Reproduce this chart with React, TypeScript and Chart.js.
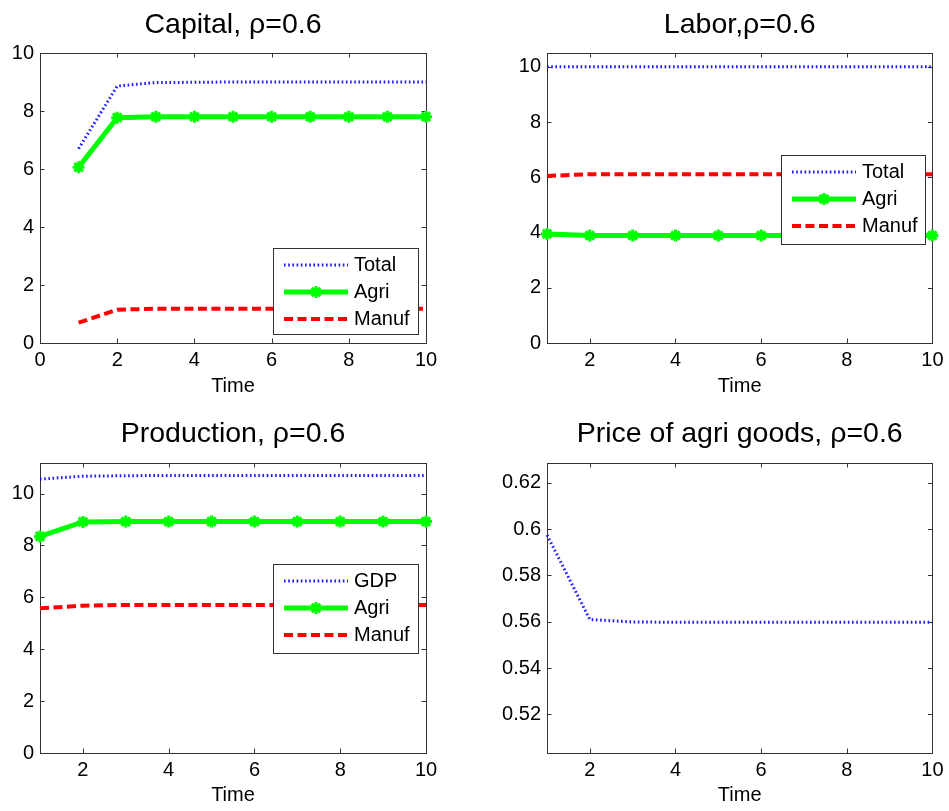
import React, { useEffect, useRef } from "react";
import { Chart, registerables } from "chart.js";

Chart.register(...registerables);

// ---------------- data ----------------
const time = [1, 2, 3, 4, 5, 6, 7, 8, 9, 10];

const capitalTotal = [6.7, 8.86, 8.98, 8.99, 9.0, 9.0, 9.0, 9.0, 9.0, 9.0];
const capitalAgri = [6.06, 7.77, 7.8, 7.8, 7.8, 7.8, 7.8, 7.8, 7.8, 7.8];
const capitalManuf = [0.7, 1.15, 1.18, 1.18, 1.18, 1.18, 1.18, 1.18, 1.18, 1.18];

const laborTotal = [10, 10, 10, 10, 10, 10, 10, 10, 10, 10];
const laborAgri = [3.95, 3.89, 3.89, 3.89, 3.89, 3.89, 3.89, 3.89, 3.89, 3.89];
const laborManuf = [6.05, 6.11, 6.11, 6.11, 6.11, 6.11, 6.11, 6.11, 6.11, 6.11];

const prodGDP = [10.56, 10.67, 10.69, 10.7, 10.7, 10.7, 10.7, 10.7, 10.7, 10.7];
const prodAgri = [8.35, 8.91, 8.92, 8.92, 8.92, 8.92, 8.92, 8.92, 8.92, 8.92];
const prodManuf = [5.58, 5.68, 5.71, 5.71, 5.71, 5.71, 5.71, 5.71, 5.71, 5.71];

const priceAgri = [0.5975, 0.561, 0.5599, 0.5598, 0.5598, 0.5598, 0.5598, 0.5598, 0.5598, 0.5598];

const xTicksCapital = [0, 2, 4, 6, 8, 10];
const xTicksOther = [2, 4, 6, 8, 10];
const yTicksLevels = [0, 2, 4, 6, 8, 10];
const yTicksPrice = [0.52, 0.54, 0.56, 0.58, 0.6, 0.62];

const labelsLevels = ["Total", "Agri", "Manuf"];
const labelsProd = ["GDP", "Agri", "Manuf"];

// ---------------- styles ----------------
const FONT = "'Liberation Sans', Arial, Helvetica, sans-serif";
const AXIS_COLOR = "#333333";
const TITLE_SIZE = 28.5;

const styleTotal = {
  borderColor: "#1a1aff",
  borderWidth: 3,
  borderDash: [1.6, 2.6],
  pointRadius: 0,
};
const styleAgri = {
  borderColor: "#00ff00",
  borderWidth: 5,
  pointStyle: "star",
  pointRadius: 6,
  pointBorderWidth: 3,
  pointBorderColor: "#00ff00",
  pointBackgroundColor: "#00ff00",
};
const styleManuf = {
  borderColor: "#ff0000",
  borderWidth: 4,
  borderDash: [9, 4.5],
  pointRadius: 0,
};

type Legend = { left: number; top: number; width: number; height: number };
type Panel = {
  title: string;
  canvas: { left: number; top: number; width: number; height: number };
  area: { left: number; right: number; top: number; bottom: number };
  titlePad: { top: number; bottom: number };
  xTitlePad: number;
  xMin: number;
  xMax: number;
  xTicks: number[];
  yMin: number;
  yMax: number;
  yTicks: number[];
  series: { label: string; values: number[]; style: any }[];
  legend?: Legend;
};

const panels: Panel[] = [
  {
    title: "Capital, ρ=0.6",
    canvas: { left: 0, top: 0, width: 475, height: 400 },
    area: { left: 40, right: 426, top: 53, bottom: 343 },
    titlePad: { top: 8.4, bottom: 10.4 },
    xTitlePad: 1.5,
    xMin: 0,
    xMax: 10,
    xTicks: xTicksCapital,
    yMin: 0,
    yMax: 10,
    yTicks: yTicksLevels,
    series: [
      { label: labelsLevels[0], values: capitalTotal, style: styleTotal },
      { label: labelsLevels[1], values: capitalAgri, style: styleAgri },
      { label: labelsLevels[2], values: capitalManuf, style: styleManuf },
    ],
    legend: { left: 273, top: 248, width: 145, height: 86 },
  },
  {
    title: "Labor,ρ=0.6",
    canvas: { left: 475, top: 0, width: 474, height: 400 },
    area: { left: 72, right: 459, top: 53, bottom: 343 },
    titlePad: { top: 8.4, bottom: 10.4 },
    xTitlePad: 1.5,
    xMin: 1,
    xMax: 10,
    xTicks: xTicksOther,
    yMin: 0,
    yMax: 10.5,
    yTicks: yTicksLevels,
    series: [
      { label: labelsLevels[0], values: laborTotal, style: styleTotal },
      { label: labelsLevels[1], values: laborAgri, style: styleAgri },
      { label: labelsLevels[2], values: laborManuf, style: styleManuf },
    ],
    legend: { left: 306, top: 155, width: 144, height: 89 },
  },
  {
    title: "Production, ρ=0.6",
    canvas: { left: 0, top: 405, width: 475, height: 406 },
    area: { left: 40, right: 426, top: 58, bottom: 348 },
    titlePad: { top: 12.4, bottom: 11.4 },
    xTitlePad: 3.3,
    xMin: 1,
    xMax: 10,
    xTicks: xTicksOther,
    yMin: 0,
    yMax: 11.18,
    yTicks: yTicksLevels,
    series: [
      { label: labelsProd[0], values: prodGDP, style: styleTotal },
      { label: labelsProd[1], values: prodAgri, style: styleAgri },
      { label: labelsProd[2], values: prodManuf, style: styleManuf },
    ],
    legend: { left: 273, top: 159, width: 145, height: 89 },
  },
  {
    title: "Price of agri goods, ρ=0.6",
    canvas: { left: 475, top: 405, width: 474, height: 406 },
    area: { left: 72, right: 459, top: 58, bottom: 348 },
    titlePad: { top: 12.4, bottom: 11.4 },
    xTitlePad: 3.3,
    xMin: 1,
    xMax: 10,
    xTicks: xTicksOther,
    yMin: 0.5033,
    yMax: 0.6286,
    yTicks: yTicksPrice,
    series: [{ label: "Price", values: priceAgri, style: styleTotal }],
  },
];

// ---------------- plugins ----------------
const TICK_LEN = 4.5;

const boxPlugin = {
  id: "matlabBox",
  beforeDatasetsDraw(chart: any) {
    const { ctx, chartArea } = chart;
    const { left, right, top, bottom } = chartArea;
    ctx.save();
    ctx.strokeStyle = AXIS_COLOR;
    ctx.lineWidth = 1;
    ctx.beginPath();
    const xs = chart.scales.x;
    xs.ticks.forEach((t: any) => {
      const px = Math.round(xs.getPixelForValue(t.value)) + 0.5;
      ctx.moveTo(px, bottom);
      ctx.lineTo(px, bottom - TICK_LEN);
      ctx.moveTo(px, top);
      ctx.lineTo(px, top + TICK_LEN);
    });
    const ys = chart.scales.y;
    ys.ticks.forEach((t: any) => {
      const py = Math.round(ys.getPixelForValue(t.value)) + 0.5;
      ctx.moveTo(left, py);
      ctx.lineTo(left + TICK_LEN, py);
      ctx.moveTo(right, py);
      ctx.lineTo(right - TICK_LEN, py);
    });
    ctx.stroke();
    ctx.strokeRect(
      Math.round(left) + 0.5,
      Math.round(top) + 0.5,
      Math.round(right) - Math.round(left),
      Math.round(bottom) - Math.round(top)
    );
    ctx.restore();
  },
};

function drawStar(ctx: CanvasRenderingContext2D, x: number, y: number, r: number) {
  ctx.beginPath();
  ctx.moveTo(x - r, y);
  ctx.lineTo(x + r, y);
  ctx.moveTo(x, y - r);
  ctx.lineTo(x, y + r);
  const d = r * Math.SQRT1_2;
  ctx.moveTo(x - d, y - d);
  ctx.lineTo(x + d, y + d);
  ctx.moveTo(x - d, y + d);
  ctx.lineTo(x + d, y - d);
  ctx.stroke();
}

const legendPlugin = {
  id: "boxLegend",
  afterDatasetsDraw(chart: any, _args: any, opts: any) {
    if (!opts || !opts.display) return;
    const ctx: CanvasRenderingContext2D = chart.ctx;
    const left = opts.left;
    const top = opts.top;
    const width = opts.width;
    const height = opts.height;
    ctx.save();
    ctx.fillStyle = "#ffffff";
    ctx.fillRect(left, top, width, height);
    ctx.strokeStyle = AXIS_COLOR;
    ctx.lineWidth = 1;
    ctx.strokeRect(Math.round(left) + 0.5, Math.round(top) + 0.5, width, height);
    chart.data.datasets.forEach((ds: any, i: number) => {
      const y = top + 17 + i * 27;
      ctx.save();
      ctx.strokeStyle = ds.borderColor;
      ctx.lineWidth = ds.borderWidth;
      ctx.setLineDash(ds.borderDash || []);
      ctx.beginPath();
      ctx.moveTo(left + 11, y);
      ctx.lineTo(left + 75, y);
      ctx.stroke();
      ctx.setLineDash([]);
      if (ds.pointRadius > 0) {
        ctx.strokeStyle = ds.pointBorderColor;
        ctx.lineWidth = ds.pointBorderWidth;
        drawStar(ctx, left + 43, y, ds.pointRadius);
      }
      ctx.restore();
      ctx.fillStyle = "#000000";
      ctx.font = `20px ${FONT}`;
      ctx.textBaseline = "middle";
      ctx.textAlign = "left";
      ctx.fillText(ds.label, left + 81, y);
    });
    ctx.restore();
  },
};

function fmtTick(v: number) {
  return String(parseFloat(Number(v).toFixed(4)));
}

// ---------------- components ----------------
function PanelChart({ p }: { p: Panel }) {
  const ref = useRef<HTMLCanvasElement | null>(null);

  useEffect(() => {
    if (!ref.current) return;
    const datasets = p.series.map((s) => ({
      label: s.label,
      data: time.map((t, i) => ({ x: t, y: s.values[i] })),
      fill: false,
      tension: 0,
      clip: false as any,
      ...s.style,
    }));
    const chart = new Chart(ref.current, {
      type: "line",
      data: { datasets },
      plugins: [boxPlugin, legendPlugin],
      options: {
        responsive: false,
        animation: false,
        events: [],
        layout: {
          padding: { left: 0, right: p.canvas.width - p.area.right, top: 0, bottom: 0 },
        },
        plugins: {
          legend: { display: false },
          tooltip: { enabled: false },
          title: {
            display: true,
            text: p.title,
            fullSize: false,
            color: "#000000",
            font: { family: FONT, size: TITLE_SIZE, weight: "normal" as any },
            padding: { top: p.titlePad.top, bottom: p.titlePad.bottom },
          },
          boxLegend: p.legend
            ? { display: true, ...p.legend }
            : { display: false },
        } as any,
        scales: {
          x: {
            type: "linear",
            min: p.xMin,
            max: p.xMax,
            grid: { display: false, drawTicks: false },
            border: { display: false },
            afterBuildTicks: (s: any) => {
              s.ticks = p.xTicks.map((v) => ({ value: v }));
            },
            afterFit: (s: any) => {
              s.height = p.canvas.height - p.area.bottom;
            },
            ticks: {
              autoSkip: false,
              maxRotation: 0,
              padding: 5.5,
              color: "#000000",
              font: { family: FONT, size: 20 },
              callback: (v: any) => fmtTick(v),
            },
            title: {
              display: true,
              text: "Time",
              color: "#000000",
              font: { family: FONT, size: 20 },
              padding: { top: 0, bottom: p.xTitlePad },
            },
          },
          y: {
            type: "linear",
            min: p.yMin,
            max: p.yMax,
            grid: { display: false, drawTicks: false },
            border: { display: false },
            afterBuildTicks: (s: any) => {
              s.ticks = p.yTicks.map((v) => ({ value: v }));
            },
            afterFit: (s: any) => {
              s.width = p.area.left;
            },
            ticks: {
              autoSkip: false,
              padding: 6,
              color: "#000000",
              font: { family: FONT, size: 20 },
              callback: (v: any) => fmtTick(v),
            },
          },
        },
      } as any,
    });
    return () => chart.destroy();
  }, [p]);

  return (
    <canvas
      ref={ref}
      width={p.canvas.width}
      height={p.canvas.height}
      style={{
        position: "absolute",
        left: p.canvas.left,
        top: p.canvas.top,
        width: p.canvas.width,
        height: p.canvas.height,
        display: "block",
      }}
    />
  );
}

export default function App() {
  return (
    <div
      style={{
        position: "absolute",
        left: 0,
        top: 0,
        width: 949,
        height: 811,
        background: "#ffffff",
        overflow: "hidden",
      }}
    >
      {panels.map((p, i) => (
        <PanelChart key={i} p={p} />
      ))}
    </div>
  );
}
